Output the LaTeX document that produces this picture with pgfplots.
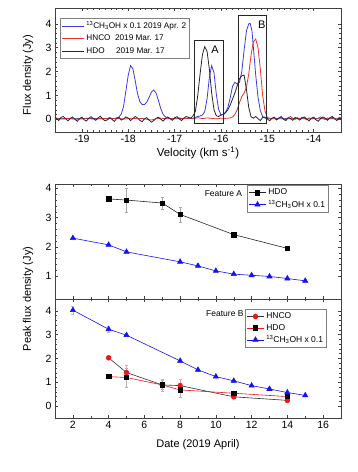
\documentclass[border=0pt]{standalone}
\usepackage{fontspec}
\setmainfont{Liberation Sans}
\usepackage{pgfplots}
\pgfplotsset{compat=1.18}
\definecolor{cblue}{RGB}{60,60,225}
\definecolor{cred}{RGB}{232,50,50}
\definecolor{bblue}{RGB}{20,20,240}
\definecolor{bred}{RGB}{240,20,20}
\begin{document}
\begin{tikzpicture}
\path[use as bounding box] (0pt,0pt) rectangle (357pt,472pt);
\pgfplotsset{every axis/.append style={
  scale only axis,
  axis line style={black!75, line width=0.7pt},
  tick style={black!75, line width=0.5pt},
  major tick length=3pt, minor tick length=1.6pt,
  tick align=inside,
  /pgf/number format/assume math mode=true,
  tick label style={font=\fontsize{10.5}{12}\selectfont},
}}
% ---------------- Top panel ----------------
\begin{axis}[at={(55pt,340pt)}, anchor=south west, width=286pt, height=124pt,
  xmin=-19.58, xmax=-13.41, ymin=-0.53, ymax=4.66,
  xtick={-19,-18,-17,-16,-15,-14}, ytick={0,1,2,3,4},
  minor x tick num=7, minor y tick num=4,
  legend style={at={(0.017,0.919)}, anchor=north west, draw=black!50, line width=0.5pt,
    font=\fontsize{8.2}{9}\selectfont, inner sep=1.5pt, row sep=1pt, cells={anchor=west}},
  legend image code/.code={\draw[#1] (0pt,0pt) -- (22pt,0pt);},
  clip=true]
\addplot[cblue, line width=0.8pt] coordinates {
(-19.6,0.03)(-19.5,0.02)(-19.4,0.03)(-19.3,0.04)(-19.2,0.02)(-19.1,0.03)(-19.0,0.02)(-18.9,0.03)(-18.8,0.04)(-18.7,0.03)(-18.6,0.02)(-18.5,0.03)
(-18.40,0.03)(-18.30,0.04)(-18.25,0.06)(-18.20,0.10)(-18.15,0.22)(-18.10,0.55)(-18.05,1.20)(-18.00,1.85)(-17.95,2.25)(-17.90,2.12)(-17.85,1.62)
(-17.80,1.08)(-17.75,0.74)(-17.70,0.62)(-17.65,0.62)(-17.60,0.72)(-17.55,0.92)(-17.50,1.14)(-17.45,1.23)(-17.40,1.10)(-17.35,0.80)(-17.30,0.46)
(-17.25,0.22)(-17.20,0.10)(-17.15,0.05)(-17.10,0.03)(-17.0,0.02)(-16.9,0.03)(-16.8,0.03)(-16.7,0.04)(-16.6,0.05)(-16.55,0.08)(-16.50,0.12)
(-16.45,0.14)(-16.40,0.18)(-16.35,0.32)(-16.30,0.85)(-16.25,1.75)(-16.20,2.25)(-16.15,1.95)(-16.10,1.05)(-16.05,0.42)(-16.00,0.18)
(-15.95,0.20)(-15.90,0.30)(-15.85,0.50)(-15.80,0.90)(-15.75,1.38)(-15.70,1.55)(-15.65,1.48)(-15.60,1.55)(-15.55,2.00)(-15.50,2.90)
(-15.45,3.70)(-15.40,4.00)(-15.37,4.02)(-15.33,3.70)(-15.30,3.00)(-15.25,1.85)(-15.20,0.92)(-15.15,0.36)(-15.10,0.12)(-15.05,0.05)(-15.00,0.03)
(-14.9,0.02)(-14.8,0.03)(-14.7,0.02)(-14.6,0.03)(-14.5,0.02)(-14.4,0.03)(-14.3,0.02)(-14.2,0.03)(-14.1,0.02)(-14.0,0.03)(-13.9,0.02)(-13.8,0.03)(-13.7,0.02)(-13.6,0.03)(-13.5,0.02)(-13.4,0.03)
};
\addlegendentry{\textsuperscript{13}CH\textsubscript{3}OH x 0.1 2019 Apr. 2}
\addplot[cred, line width=0.8pt] coordinates {
(-19.6,0.02)(-19.5,0.03)(-19.4,0.01)(-19.3,0.04)(-19.2,0.02)(-19.1,0.00)(-19.0,0.03)(-18.9,0.05)(-18.8,0.02)(-18.7,0.01)(-18.6,0.04)(-18.5,0.03)
(-18.4,0.06)(-18.3,0.02)(-18.2,0.04)(-18.1,0.01)(-18.0,0.03)(-17.9,0.05)(-17.8,0.02)(-17.7,0.04)(-17.6,0.00)(-17.5,-0.03)(-17.4,0.02)(-17.3,0.05)
(-17.2,0.03)(-17.1,0.02)(-17.0,0.04)(-16.9,0.06)(-16.8,0.03)(-16.7,0.05)(-16.6,0.02)(-16.5,0.07)(-16.4,0.03)(-16.3,0.06)(-16.2,0.04)(-16.1,0.02)
(-16.0,0.05)(-15.9,0.04)(-15.85,0.05)(-15.80,0.06)(-15.75,0.10)(-15.70,0.20)(-15.65,0.40)(-15.60,0.70)(-15.55,0.95)(-15.50,1.10)(-15.45,1.35)
(-15.40,1.90)(-15.35,2.70)(-15.30,3.25)(-15.25,3.36)(-15.20,3.00)(-15.15,2.10)(-15.10,1.00)(-15.05,0.35)(-15.00,0.08)
(-14.95,0.05)(-14.90,0.02)(-14.85,0.08)(-14.80,-0.02)(-14.75,0.04)(-14.70,0.10)(-14.65,0.03)(-14.60,-0.03)(-14.55,0.06)(-14.50,0.12)
(-14.45,0.04)(-14.40,0.00)(-14.35,0.07)(-14.30,0.02)(-14.25,0.09)(-14.20,0.05)(-14.15,-0.02)(-14.10,0.06)(-14.05,0.03)(-14.00,0.08)
(-13.95,0.01)(-13.90,0.05)(-13.85,0.10)(-13.80,0.04)(-13.75,-0.01)(-13.70,0.06)(-13.65,0.03)(-13.60,0.08)(-13.55,0.05)(-13.50,0.02)(-13.45,0.07)(-13.40,0.09)
};
\addlegendentry{HNCO\ \ 2019 Mar. 17}
\addplot[black!85, line width=0.8pt] coordinates {
(-19.60,0.10)(-19.55,0.05)(-19.50,-0.05)(-19.45,0.08)(-19.40,0.12)(-19.35,0.02)(-19.30,-0.06)(-19.25,0.04)(-19.20,0.10)(-19.15,0.00)
(-19.10,-0.08)(-19.05,0.03)(-19.00,0.09)(-18.95,-0.02)(-18.90,-0.07)(-18.85,0.05)(-18.80,0.11)(-18.75,0.03)(-18.70,-0.04)(-18.65,0.06)
(-18.60,0.13)(-18.55,0.01)(-18.50,-0.06)(-18.45,-0.02)(-18.40,0.07)(-18.35,0.00)(-18.30,-0.09)(-18.25,0.04)(-18.20,0.08)(-18.15,-0.03)
(-18.10,0.02)(-18.05,0.10)(-18.00,0.05)(-17.95,-0.05)(-17.90,0.03)(-17.85,0.12)(-17.80,0.06)(-17.75,-0.04)(-17.70,-0.10)(-17.65,0.02)
(-17.60,0.07)(-17.55,-0.03)(-17.50,-0.12)(-17.45,-0.05)(-17.40,0.04)(-17.35,0.09)(-17.30,0.01)(-17.25,-0.07)(-17.20,0.03)(-17.15,0.10)
(-17.10,0.04)(-17.05,-0.04)(-17.00,0.06)(-16.95,0.11)(-16.90,0.02)(-16.85,-0.05)(-16.80,0.05)(-16.75,0.12)(-16.70,0.08)(-16.65,0.05)
(-16.60,0.15)(-16.55,0.35)(-16.50,1.00)(-16.45,1.90)(-16.40,2.70)(-16.35,3.04)(-16.30,2.85)(-16.25,2.10)(-16.20,1.10)(-16.15,0.40)
(-16.10,0.15)(-16.05,0.12)(-16.00,0.18)(-15.95,0.20)(-15.90,0.28)(-15.85,0.40)(-15.80,0.60)(-15.75,0.85)(-15.70,1.10)(-15.65,1.40)
(-15.60,1.70)(-15.55,1.82)(-15.50,1.85)(-15.45,1.25)(-15.40,0.50)(-15.35,0.10)(-15.30,0.05)(-15.25,0.12)(-15.20,0.03)(-15.15,-0.05)
(-15.10,0.08)(-15.05,0.10)(-15.00,0.02)(-14.95,-0.06)(-14.90,0.05)(-14.85,0.09)(-14.80,-0.02)(-14.75,0.06)(-14.70,0.11)(-14.65,0.00)
(-14.60,-0.05)(-14.55,0.07)(-14.50,0.03)(-14.45,-0.04)(-14.40,0.08)(-14.35,0.04)(-14.30,-0.03)(-14.25,0.06)(-14.20,0.10)(-14.15,0.01)
(-14.10,-0.06)(-14.05,0.04)(-14.00,0.09)(-13.95,-0.02)(-13.90,-0.08)(-13.85,0.03)(-13.80,0.10)(-13.75,0.05)(-13.70,-0.04)(-13.65,0.07)
(-13.60,0.12)(-13.55,0.02)(-13.50,-0.05)(-13.45,0.06)(-13.40,0.00)
};
\addlegendentry{HDO\ \ \ \ \ 2019 Mar. 17}
\draw[black!85, line width=0.7pt] (axis cs:-16.58,-0.18) rectangle (axis cs:-15.95,3.32);
\draw[black!85, line width=0.7pt] (axis cs:-15.62,-0.18) rectangle (axis cs:-15.01,4.37);
\node[font=\fontsize{11}{13}\selectfont] at (axis cs:-16.13,2.93) {A};
\node[font=\fontsize{11}{13}\selectfont] at (axis cs:-15.12,3.95) {B};
\end{axis}
\node[rotate=90, font=\fontsize{11}{13}\selectfont] at (28pt,397pt) {Flux density (Jy)};
\node[font=\fontsize{11.5}{13}\selectfont] at (198pt,319pt) {Velocity (km s\textsuperscript{-1})};
% ---------------- Panel A ----------------
\begin{axis}[at={(55pt,173pt)}, anchor=south west, width=286pt, height=115pt,
  xmin=1, xmax=17, ymin=0.22, ymax=4.15,
  xtick={2,4,...,16}, xticklabels={}, minor x tick num=1,
  ytick={1,2,3,4}, minor y tick num=4,
  legend style={at={(0.671,0.99)}, anchor=north west, draw=black!50, line width=0.5pt,
    font=\fontsize{8.5}{9.5}\selectfont, inner sep=1.5pt, row sep=0pt, cells={anchor=west}}]
\addplot[black!85, line width=0.6pt, mark=square*, mark size=2.2pt, mark options={fill=black, draw=black},
  error bars/.cd, y dir=both, y explicit, error bar style={black!35, line width=0.5pt}, error mark options={black!35, rotate=90, mark size=1.5pt}]
  coordinates {(4,3.64)+-(0,0.04) (5,3.60)+-(0,0.40) (7,3.50)+-(0,0.20) (8,3.11)+-(0,0.25) (11,2.42)+-(0,0.08) (14,1.95)+-(0,0.05)};
\addlegendentry{HDO}
\addplot[bblue, line width=0.6pt, mark=triangle*, mark size=3pt, mark options={fill=bblue, draw=bblue}]
  coordinates {(2,2.30) (4,2.07) (5,1.83) (8,1.49) (9,1.35) (10,1.18) (11,1.07) (12,1.03) (13,0.99) (14,0.92) (15,0.84)};
\addlegendentry{\textsuperscript{13}CH\textsubscript{3}OH x 0.1}
\node[font=\fontsize{8.5}{9.5}\selectfont] at (rel axis cs:0.589,0.913) {Feature A};
\end{axis}
% ---------------- Panel B ----------------
\begin{axis}[at={(55pt,54pt)}, anchor=south west, width=286pt, height=119pt,
  xmin=1, xmax=17, ymin=-0.5, ymax=4.5,
  xtick={2,4,...,16}, minor x tick num=1,
  ytick={0,1,2,3,4}, minor y tick num=4,
  legend style={at={(0.664,0.916)}, anchor=north west, draw=black!50, line width=0.5pt,
    font=\fontsize{8.5}{9.5}\selectfont, inner sep=1.5pt, row sep=0pt, cells={anchor=west}}]
\addplot[black!80, line width=0.6pt, mark=*, mark size=2.4pt, mark options={fill=bred, draw=bred},
  error bars/.cd, y dir=both, y explicit, error bar style={bred!40, line width=0.5pt}, error mark options={bred!40, rotate=90, mark size=1.5pt}]
  coordinates {(4,2.03)+-(0,0.05) (5,1.41)+-(0,0.30) (7,0.89)+-(0,0.25) (8,0.86)+-(0,0.25) (11,0.39)+-(0,0.05) (14,0.24)+-(0,0.05)};
\addlegendentry{HNCO}
\addplot[bred, line width=0.6pt, mark=square*, mark size=2.2pt, mark options={fill=black, draw=black},
  error bars/.cd, y dir=both, y explicit, error bar style={black!30, line width=0.5pt}, error mark options={black!30, rotate=90, mark size=1.5pt}]
  coordinates {(4,1.24)+-(0,0.04) (5,1.20)+-(0,0.40) (7,0.89)+-(0,0.20) (8,0.68)+-(0,0.30) (11,0.54)+-(0,0.06) (14,0.40)+-(0,0.06)};
\addlegendentry{HDO}
\addplot[bblue, line width=0.6pt, mark=triangle*, mark size=3pt, mark options={fill=bblue, draw=bblue},
  error bars/.cd, y dir=both, y explicit, error bar style={bblue!30, line width=0.5pt}, error mark options={bblue!30, rotate=90, mark size=1.5pt}]
  coordinates {(2,4.03)+-(0,0.15) (4,3.23)+-(0,0.12) (5,2.98)+-(0,0.05) (8,1.90)+-(0,0.05) (9,1.52)+-(0,0.04) (10,1.24)+-(0,0.04) (11,1.06)+-(0,0.04) (12,0.86)+-(0,0.03) (13,0.72)+-(0,0.03) (14,0.57)+-(0,0.05) (15,0.45)+-(0,0.03)};
\addlegendentry{\textsuperscript{13}CH\textsubscript{3}OH x 0.1}
\node[font=\fontsize{8.5}{9.5}\selectfont] at (rel axis cs:0.594,0.88) {Feature B};
\end{axis}
\node[rotate=90, font=\fontsize{11}{13}\selectfont] at (28pt,173pt) {Peak flux density (Jy)};
\node[font=\fontsize{11}{13}\selectfont] at (198pt,27pt) {Date (2019 April)};
\end{tikzpicture}
\end{document}
